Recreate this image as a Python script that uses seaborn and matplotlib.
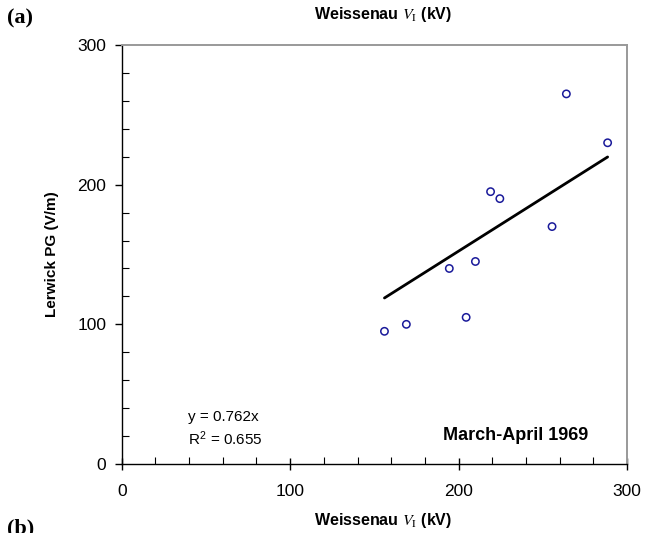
import numpy as np
import pandas as pd
import matplotlib
matplotlib.use("Agg")
import matplotlib.pyplot as plt
from matplotlib.ticker import MultipleLocator
import seaborn as sns

# Weissenau V_I (kV) vs Lerwick PG (V/m), March-April 1969
weissenau_kv = [156, 169, 204.5, 194.5, 210, 219, 224.5, 255.5, 264, 288.5]
lerwick_pg = [95, 100, 105, 140, 145, 195, 190, 170, 265, 230]
slope = 0.762
r_squared = 0.655

df = pd.DataFrame({"v": weissenau_kv, "pg": lerwick_pg})

sns.set_style("ticks")
plt.rcParams["font.family"] = ["Liberation Sans", "DejaVu Sans"]
plt.rcParams["mathtext.fontset"] = "stix"
plt.rcParams["text.color"] = "black"
plt.rcParams["axes.labelcolor"] = "black"
plt.rcParams["xtick.color"] = "black"
plt.rcParams["ytick.color"] = "black"

fig = plt.figure(figsize=(6.58, 5.33), dpi=100)
ax = fig.add_axes([121.7 / 658, 1 - 464 / 533, (627 - 121.7) / 658, (464 - 45) / 533])

# trend line through origin, over the data range
fit_x = np.array([min(weissenau_kv), max(weissenau_kv)])
fit = pd.DataFrame({"v": fit_x, "pg": slope * fit_x})
sns.lineplot(data=fit, x="v", y="pg", color="black", linewidth=2.0, ax=ax)

sns.scatterplot(data=df, x="v", y="pg", marker="o", s=28,
                facecolor="none", edgecolor="#1a1a9a", linewidth=1.1, ax=ax)

ax.set_xlim(0, 300)
ax.set_ylim(0, 300)
ax.xaxis.set_major_locator(MultipleLocator(100))
ax.xaxis.set_minor_locator(MultipleLocator(20))
ax.yaxis.set_major_locator(MultipleLocator(100))
ax.yaxis.set_minor_locator(MultipleLocator(20))
ax.tick_params(axis="x", which="major", direction="inout", length=9, width=1,
               labelsize=12.5, pad=10)
ax.tick_params(axis="y", which="major", direction="out", length=5, width=1,
               labelsize=12.5, pad=6)
ax.tick_params(which="minor", direction="in", length=5, width=0.8)

for side in ["left", "bottom"]:
    ax.spines[side].set_color("black")
    ax.spines[side].set_linewidth(1.0)
for side in ["top", "right"]:
    ax.spines[side].set_color("#999999")
    ax.spines[side].set_linewidth(1.4)

ax.set_xlabel("")
ax.set_ylabel("Lerwick PG (V/m)", fontsize=11, fontweight="bold")
ax.yaxis.set_label_coords((59 - 121.7) / (627 - 121.7), 0.5)

fig.text(383 / 658, 1 - 14 / 533, r"Weissenau $V_\mathrm{I}$ (kV)",
         ha="center", va="center", fontsize=11.5, fontweight="bold")
fig.text(383 / 658, 1 - 521 / 533, r"Weissenau $V_\mathrm{I}$ (kV)",
         ha="center", va="center", fontsize=11.5, fontweight="bold")
fig.text(7 / 658, 1 - 18 / 533, "(a)", ha="left", va="center", fontsize=16,
         fontweight="bold", family="Liberation Serif")
fig.text(7 / 658, 1 - 528 / 533, "(b)", ha="left", va="center", fontsize=16,
         fontweight="bold", family="Liberation Serif")

fig.text(188 / 658, 1 - 417 / 533, "y = %.3fx" % slope, ha="left", va="center",
         fontsize=11)
fig.text(188 / 658, 1 - 439 / 533, r"R$^\mathregular{2}$ = %.3f" % r_squared,
         ha="left", va="center", fontsize=11)
fig.text(516 / 658, 1 - 436 / 533, "March-April 1969", ha="center", va="center",
         fontsize=13, fontweight="bold")

fig.savefig("out.png", dpi=100)
